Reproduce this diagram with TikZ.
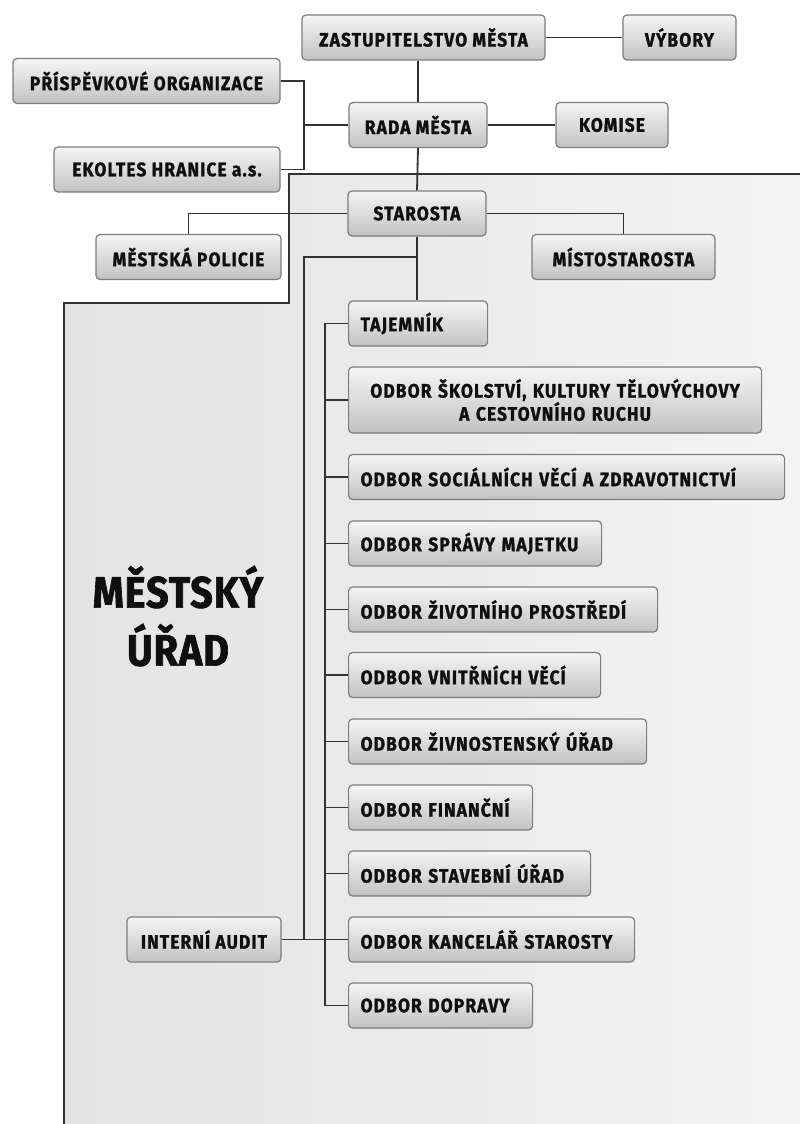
\documentclass[tikz,border=0pt]{standalone}
\usepackage{fontspec}
\newfontfamily\boxfont[FakeStretch=0.89,LetterSpace=5.8,FakeBold=1.2]{Fira Sans}
\newfontfamily\bigfont[FakeStretch=0.9,LetterSpace=2,FakeBold=1.5]{Fira Sans}
\definecolor{boxedge}{RGB}{125,125,125}
\definecolor{linec}{RGB}{50,50,50}
\definecolor{txt}{RGB}{15,15,15}
\tikzset{
  orgbox/.style={rectangle, rounded corners=4pt, draw=boxedge, line width=1.2pt,
    top color=gray!8, bottom color=gray!48, text=txt,
    font=\boxfont\bfseries\fontsize{19.5}{21}\selectfont,
    minimum height=45pt, inner xsep=12pt, inner ysep=2pt},
  cbox/.style={orgbox, minimum width=#1, align=center},
  lbox/.style={orgbox, text width=#1, align=left},
  conn/.style={draw=linec, line width=1.8pt},
  panel/.style={draw=linec, line width=1.5pt}
}
\begin{document}
\begin{tikzpicture}[x=1pt,y=-1pt]
\useasboundingbox (0,0) rectangle (800,1124);
% panel
\shade[left color=gray!22, right color=gray!9] (800,174) -- (289,174) -- (289,303) -- (64,303) -- (64,1124) -- (800,1124) -- cycle;
\draw[panel] (800,174) -- (289,174) -- (289,303) -- (64,303) -- (64,1124);
% big label
\node[font=\bigfont\bfseries\fontsize{44}{58}\selectfont, text=txt, align=center] (urad) at (178,616) {MĚSTSKÝ\\ÚŘAD};
% junction coordinates
\coordinate (jl) at (304,125);
\coordinate (jb) at (417,257);
% boxes
\node[cbox=243pt] (zast) at (423.5,37.5) {ZASTUPITELSTVO MĚSTA};
\node[cbox=113pt] (vybory) at (679.5,37.5) {VÝBORY};
\node[cbox=267pt] (prisp) at (146.5,81) {PŘÍSPĚVKOVÉ ORGANIZACE};
\node[cbox=138pt] (rada) at (418,125) {RADA MĚSTA};
\node[cbox=112pt] (komise) at (612,125) {KOMISE};
\node[cbox=226pt] (ekoltes) at (167,169.5) {EKOLTES HRANICE a.s.};
\node[cbox=138pt] (starosta) at (417,213.5) {STAROSTA};
\node[cbox=185pt] (policie) at (188.5,257) {MĚSTSKÁ POLICIE};
\node[cbox=183pt] (misto) at (623.5,257) {MÍSTOSTAROSTA};
\node[lbox=115pt, anchor=west] (taj) at (348,323.5) {TAJEMNÍK};
\node[lbox=389pt, align=center, anchor=west, minimum height=66pt] (skol) at (348,400) {ODBOR ŠKOLSTVÍ, KULTURY TĚLOVÝCHOVY\\A CESTOVNÍHO RUCHU};
\node[lbox=412pt, anchor=west] (soc) at (348,477) {ODBOR SOCIÁLNÍCH VĚCÍ A ZDRAVOTNICTVÍ};
\node[lbox=229pt, anchor=west] (sprava) at (348,543.5) {ODBOR SPRÁVY MAJETKU};
\node[lbox=285pt, anchor=west] (zivot) at (348,609.5) {ODBOR ŽIVOTNÍHO PROSTŘEDÍ};
\node[lbox=228pt, anchor=west] (vnitr) at (348,675) {ODBOR VNITŘNÍCH VĚCÍ};
\node[lbox=274pt, anchor=west] (zivn) at (348,741.5) {ODBOR ŽIVNOSTENSKÝ ÚŘAD};
\node[lbox=160pt, anchor=west] (fin) at (348,807.5) {ODBOR FINANČNÍ};
\node[lbox=218pt, anchor=west] (stav) at (348,873.5) {ODBOR STAVEBNÍ ÚŘAD};
\node[lbox=262pt, anchor=west] (kanc) at (348,939.5) {ODBOR KANCELÁŘ STAROSTY};
\node[lbox=160pt, anchor=west] (dopr) at (348,1005.5) {ODBOR DOPRAVY};
\node[cbox=154pt] (audit) at (204,939.5) {INTERNÍ AUDIT};
% connectors
\draw[conn] (zast.east) -- (vybory.west);
\draw[conn] (rada.north) -- (rada.north |- zast.south);
\draw[conn] (rada.east) -- (komise.west);
\draw[conn] (prisp.east) -| (jl) |- (ekoltes.east);
\draw[conn] (jl) -- (rada.west);
\draw[conn] (rada.south) -- (starosta.north);
\draw[conn] (starosta.west) -| (policie.north);
\draw[conn] (starosta.east) -| (misto.north);
\draw[conn] (starosta.south) -- (taj.north -| starosta.south);
\draw[conn] (jb) -| (audit.east -| jl) -- (audit.east);
\draw[conn] (audit.east) -- (kanc.west);
\coordinate (sp) at (325,323.5);
\draw[conn] (taj.west) -- (sp) |- (dopr.west);
\foreach \n in {skol,soc,sprava,zivot,vnitr,zivn,fin,stav,kanc}
  \draw[conn] (sp |- \n.west) -- (\n.west);
\end{tikzpicture}
\end{document}
